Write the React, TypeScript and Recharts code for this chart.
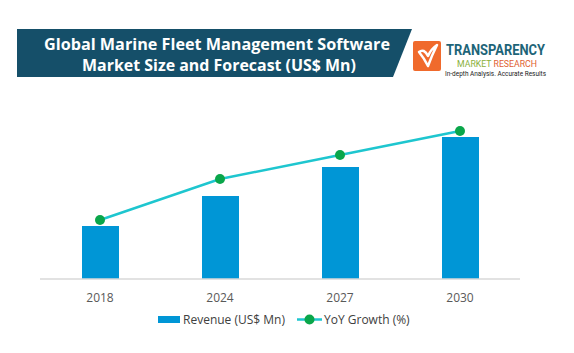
import { ComposedChart, Bar, Line, XAxis, YAxis, Legend } from "recharts";

const years = ["2018", "2024", "2027", "2030"];
const revenue = [530, 830, 1120, 1420];
const yoyGrowth = [5.9, 10.0, 12.4, 14.8];

const data = years.map((year, i) => ({ year, revenue: revenue[i], growth: yoyGrowth[i] }));

const TITLE_BG = "#154f69";
const BAR = "#0096d6";
const LINE = "#1ec6cf";
const DOT = "#0aa64a";

function renderLegend() {
  return (
    <svg width={574} height={20} style={{ display: "block" }}>
      <rect x={158} y={7} width={22} height={7} fill={BAR} />
      <text x={183} y={15} fontSize={12} fill="#404040" fontFamily="Open Sans, sans-serif">
        Revenue (US$ Mn)
      </text>
      <line x1={297} y1={10.5} x2={322} y2={10.5} stroke={LINE} strokeWidth={2.5} />
      <circle cx={309.5} cy={10.5} r={5} fill={DOT} />
      <text x={324} y={15} fontSize={12} fill="#404040" fontFamily="Open Sans, sans-serif">
        YoY Growth (%)
      </text>
    </svg>
  );
}

function Header() {
  return (
    <svg width={574} height={100} style={{ position: "absolute", left: 0, top: 0 }}>
      <polygon points="17,29 412,29 393,77 17,77" fill={TITLE_BG} />
      <text x={217} y={50} textAnchor="middle" fontSize={15.5} fontWeight="bold" fill="#ffffff" fontFamily="Open Sans, sans-serif" textLength={346} lengthAdjust="spacingAndGlyphs">
        Global Marine Fleet Management Software
      </text>
      <text x={219} y={71} textAnchor="middle" fontSize={15.5} fontWeight="bold" fill="#ffffff" fontFamily="Open Sans, sans-serif" textLength={274} lengthAdjust="spacingAndGlyphs">
        Market Size and Forecast (US$ Mn)
      </text>
      {/* logo */}
      <rect x={413} y={41} width={28} height={30} rx={2} fill="#f06a2c" />
      <path d="M419,52 Q424,48 428,56 Q431,49 437,45 Q432,55 428,66 Q424,58 419,52 Z" fill="none" stroke="#ffffff" strokeWidth={2.5} strokeLinejoin="round" />
      <text x={446} y={55} fontSize={15} fontWeight="bold" fill="#1d6478" fontFamily="Roboto, sans-serif" textLength={99} lengthAdjust="spacingAndGlyphs">
        TRANSPARENCY
      </text>
      <text x={457} y={66.5} fontSize={8.5} fontFamily="Roboto, sans-serif" textLength={80} lengthAdjust="spacingAndGlyphs">
        <tspan fill="#8ab03a">MARKET </tspan>
        <tspan fill="#e0602f">RESEARCH</tspan>
      </text>
      <text x={445} y={76} fontSize={6.5} fill="#222222" fontFamily="Roboto, sans-serif" textLength={101} lengthAdjust="spacingAndGlyphs">
        In-depth Analysis. Accurate Results
      </text>
    </svg>
  );
}

export default function App() {
  return (
    <div style={{ position: "absolute", left: 0, top: 0, width: 574, height: 353, background: "#ffffff" }}>
      <ComposedChart
        width={574}
        height={353}
        data={data}
        margin={{ top: 119, right: 54, bottom: 10, left: 40 }}
        barCategoryGap={0}
      >
        <XAxis
          dataKey="year"
          axisLine={{ stroke: "#d9d9d9", strokeWidth: 1.5 }}
          tickLine={false}
          tick={{ fill: "#595959", fontSize: 12, fontFamily: "Open Sans, sans-serif" }}
          tickMargin={8}
          height={30}
        />
        <YAxis yAxisId="rev" domain={[0, 1600]} hide />
        <YAxis yAxisId="growth" orientation="right" domain={[0, 16]} hide />
        <Bar yAxisId="rev" dataKey="revenue" name="Revenue (US$ Mn)" fill={BAR} barSize={37} isAnimationActive={false} />
        <Line
          yAxisId="growth"
          dataKey="growth"
          name="YoY Growth (%)"
          type="linear"
          stroke={LINE}
          strokeWidth={2.5}
          dot={{ r: 5, fill: DOT, stroke: "none" }}
          activeDot={false}
          isAnimationActive={false}
        />
        <Legend
          verticalAlign="bottom"
          height={34}
          content={renderLegend}
          wrapperStyle={{ left: 0, width: 574 }}
        />
      </ComposedChart>
      <Header />
    </div>
  );
}
